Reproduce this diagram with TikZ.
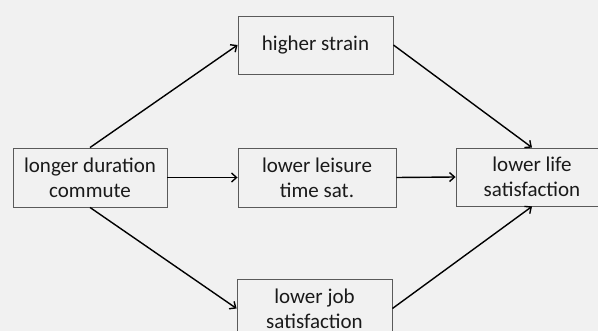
\documentclass[tikz,border=0pt]{standalone}
\usepackage{fontspec}
\setmainfont{Carlito}
\usetikzlibrary{arrows.meta}
\definecolor{bgcol}{HTML}{F1F1F1}
\definecolor{boxline}{HTML}{5A5A5A}
\definecolor{txt}{HTML}{1A1A1A}
\tikzset{
  stage/.style={draw=boxline, line width=0.9pt, fill=bgcol, text=txt,
    inner sep=0pt, align=center,
    font=\fontsize{21}{25}\selectfont},
  link/.style={draw=black, line width=1.4pt,
    -{Straight Barb[length=5pt,width=9pt,line width=1.4pt]}}
}
\begin{document}
\begin{tikzpicture}[x=1pt,y=-1pt]
  \useasboundingbox (0,0) rectangle (598,331);
  \fill[bgcol] (0,0) rectangle (598,331);
  \clip (0,0) rectangle (598,331);

  % boxes
  \node[stage, minimum width=154pt, minimum height=59pt] (commute) at (90,177.5)
    {longer duration\\commute};
  \node[stage, minimum width=155pt, minimum height=58pt] (strain) at (315.5,45)
    {higher strain};
  \node[stage, minimum width=158pt, minimum height=59pt] (leisure) at (317,177.5)
    {lower leisure\\time sat.};
  \node[stage, minimum width=155pt, minimum height=59pt] (job) at (314.5,308.5)
    {lower job\\satisfaction};
  \node[stage, minimum width=152pt, minimum height=58pt] (life) at (532,177)
    {lower life\\satisfaction};

  % connectors
  \draw[link] (commute.north) -- (strain.west);
  \draw[link] (commute.east) -- (leisure.west);
  \draw[link] (commute.south) -- (job.west);
  \draw[link] (strain.east) -- (life.north);
  \draw[link] (leisure.east) -- (life.west);
  \draw[link] (job.east) -- (life.south);
\end{tikzpicture}
\end{document}
